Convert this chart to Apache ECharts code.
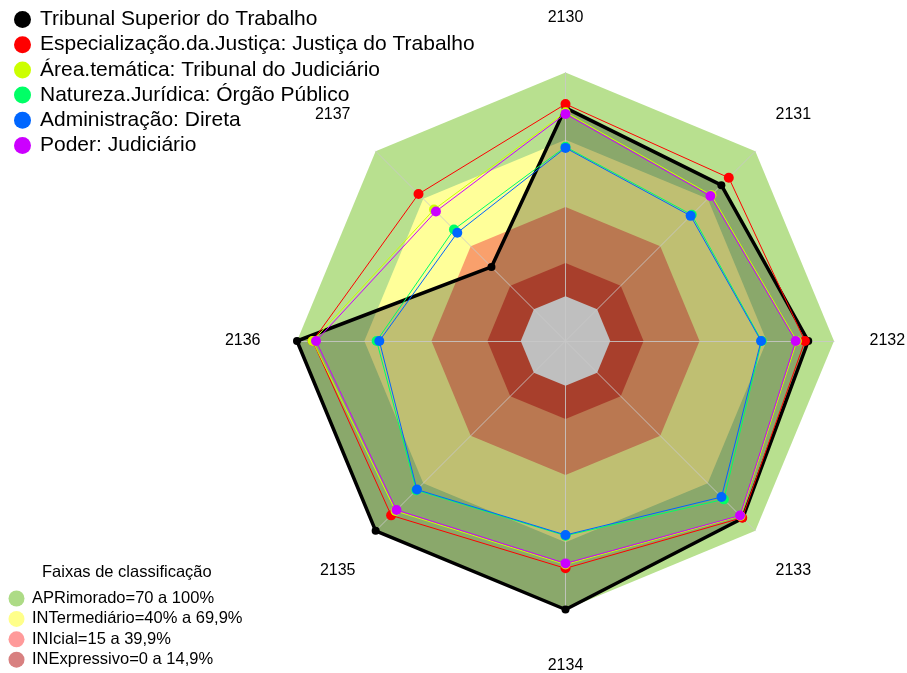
<!DOCTYPE html>
<html>
<head>
<meta charset="utf-8">
<title>Radar - faixas de classificação</title>
<script src="https://cdn.jsdelivr.net/npm/echarts@6/dist/echarts.min.js"></script>
<style>
  html, body { margin: 0; padding: 0; background: #fff; }
  #chart { width: 907px; height: 673px; }
</style>
</head>
<body>
<div id="chart"></div>
<script>
// eixos, no sentido horário a partir do topo
const categories = ['2130', '2131', '2132', '2133', '2134', '2135', '2136', '2137']

// séries (valores em %)
const tribunal       = [84.2, 78.5, 88.5, 92.0, 100, 100, 100, 26.8]
const especializacao = [85.9, 83.2, 87.0, 91.7, 81.6, 90.2, 93.0, 72.9]
const areaTematica   = [82.2, 72.2, 83.4, 90.6, 79.9, 87.4, 93.0, 63.1]
const natureza       = [66.8, 59.8, 67.7, 80.1, 67.0, 74.3, 64.4, 50.5]
const administracao  = [66.3, 59.1, 67.4, 78.6, 66.7, 73.9, 63.2, 48.4]
const poder          = [81.5, 71.6, 82.9, 90.3, 79.4, 86.8, 91.5, 61.9]

const seriesNames = [
  'Tribunal Superior do Trabalho',
  'Especialização.da.Justiça: Justiça do Trabalho',
  'Área.temática: Tribunal do Judiciário',
  'Natureza.Jurídica: Órgão Público',
  'Administração: Direta',
  'Poder: Judiciário'
]
const seriesValues = [tribunal, especializacao, areaTematica, natureza, administracao, poder]
const seriesColors = ['#000000', '#FF0000', '#CCFF00', '#00FF66', '#0066FF', '#CC00FF']

// faixas de classificação (limite superior de cada faixa)
const bandNames = [
  'APRimorado=70 a 100%',
  'INTermediário=40% a 69,9%',
  'INIcial=15 a 39,9%',
  'INExpressivo=0 a 14,9%'
]
const bandLimits = [100, 69.9, 39.9, 14.9, 0]
const bandFill = ['#b8e08f', '#ffff99', '#f9a06c', '#e0553b', '#ffffff']
const bandLegendColors = ['#addb86', '#ffff8a', '#ff9a9a', '#d88080']

// o radar do echarts gira no sentido anti-horário: reordena
const order = [0, 7, 6, 5, 4, 3, 2, 1]
const reorder = arr => order.map(i => arr[i])

const font = "'Liberation Sans', Arial, sans-serif"

// ajuste fino dos rótulos dos eixos (padding por posição)
const namePadding = {
  '2130': [0, 0, 18, 0],
  '2131': [0, 0, 32, 0],
  '2132': [0, 0, 0, 7],
  '2133': [40, 0, 0, 0],
  '2134': [20, 0, 0, 0],
  '2135': [40, 0, 0, 0],
  '2136': [0, 8, 0, 0],
  '2137': [0, 5, 32, 0]
}
const rich = {}
categories.forEach(c => {
  rich['c' + c] = { padding: namePadding[c], fontSize: 16, fontFamily: font, color: '#000' }
})

const chart = echarts.init(document.getElementById('chart'))

// faixas coloridas de fundo
const bandSeries = bandLimits.map((lim, i) => ({
  name: bandNames[i] || 'centro',
  type: 'radar',
  z: 1,
  silent: true,
  symbol: 'none',
  lineStyle: { width: 0, opacity: 0 },
  itemStyle: { color: bandLegendColors[i] || '#fff' },
  areaStyle: { color: bandFill[i], opacity: 1 },
  data: [{ value: categories.map(() => lim), name: bandNames[i] || 'centro' }]
}))

// sombreamento do Tribunal (abaixo dos raios)
const shadeSeries = {
  name: 'sombra',
  type: 'radar',
  z: 2,
  silent: true,
  symbol: 'none',
  lineStyle: { width: 0, opacity: 0 },
  areaStyle: { color: 'rgba(0,0,0,0.25)', opacity: 1 },
  data: [{ value: reorder(tribunal), name: 'sombra' }]
}

const dataSeries = seriesValues.map((vals, i) => ({
  name: seriesNames[i],
  type: 'radar',
  z: 4,
  symbol: 'circle',
  symbolSize: i === 0 ? 8 : 10,
  itemStyle: { color: seriesColors[i] },
  lineStyle: { color: seriesColors[i], width: i === 0 ? 3.5 : 1 },
  data: [{ value: reorder(vals), name: seriesNames[i] }]
}))

const option = {
  animation: false,
  title: {
    text: 'Faixas de classificação',
    left: 42,
    top: 564,
    padding: 0,
    textStyle: { fontFamily: font, fontSize: 16.5, fontWeight: 'normal', color: '#000' }
  },
  legend: [
    {
      data: seriesNames,
      orient: 'vertical',
      left: 14,
      top: 9,
      padding: 0,
      icon: 'circle',
      itemWidth: 25,
      itemHeight: 17,
      itemGap: 4.2,
      selectedMode: false,
      textStyle: { fontFamily: font, fontSize: 21, color: '#000' }
    },
    {
      data: bandNames.map((n, i) => ({ name: n, itemStyle: { color: bandLegendColors[i] } })),
      orient: 'vertical',
      left: 8.5,
      top: 590,
      padding: 0,
      icon: 'circle',
      itemWidth: 21,
      itemHeight: 16,
      itemGap: 3.4,
      selectedMode: false,
      textStyle: { fontFamily: font, fontSize: 16.5, color: '#000' }
    }
  ],
  radar: {
    center: [565.5, 341],
    radius: 268.5,
    startAngle: 90,
    shape: 'polygon',
    z: 3,
    nameGap: 28.5,
    indicator: reorder(categories).map(c => ({ name: c, min: -20, max: 100 })),
    axisName: {
      color: '#000',
      fontFamily: font,
      fontSize: 16,
      formatter: name => '{c' + name + '|' + name + '}',
      rich: rich
    },
    axisLine: { show: true, lineStyle: { color: 'rgba(200,200,200,0.85)', width: 1 } },
    splitLine: { show: false },
    splitArea: { show: false },
    axisTick: { show: false },
    axisLabel: { show: false }
  },
  series: bandSeries.concat([shadeSeries], dataSeries)
}

chart.setOption(option)

window.addEventListener('resize', () => {
  chart.resize()
})
</script>
</body>
</html>
